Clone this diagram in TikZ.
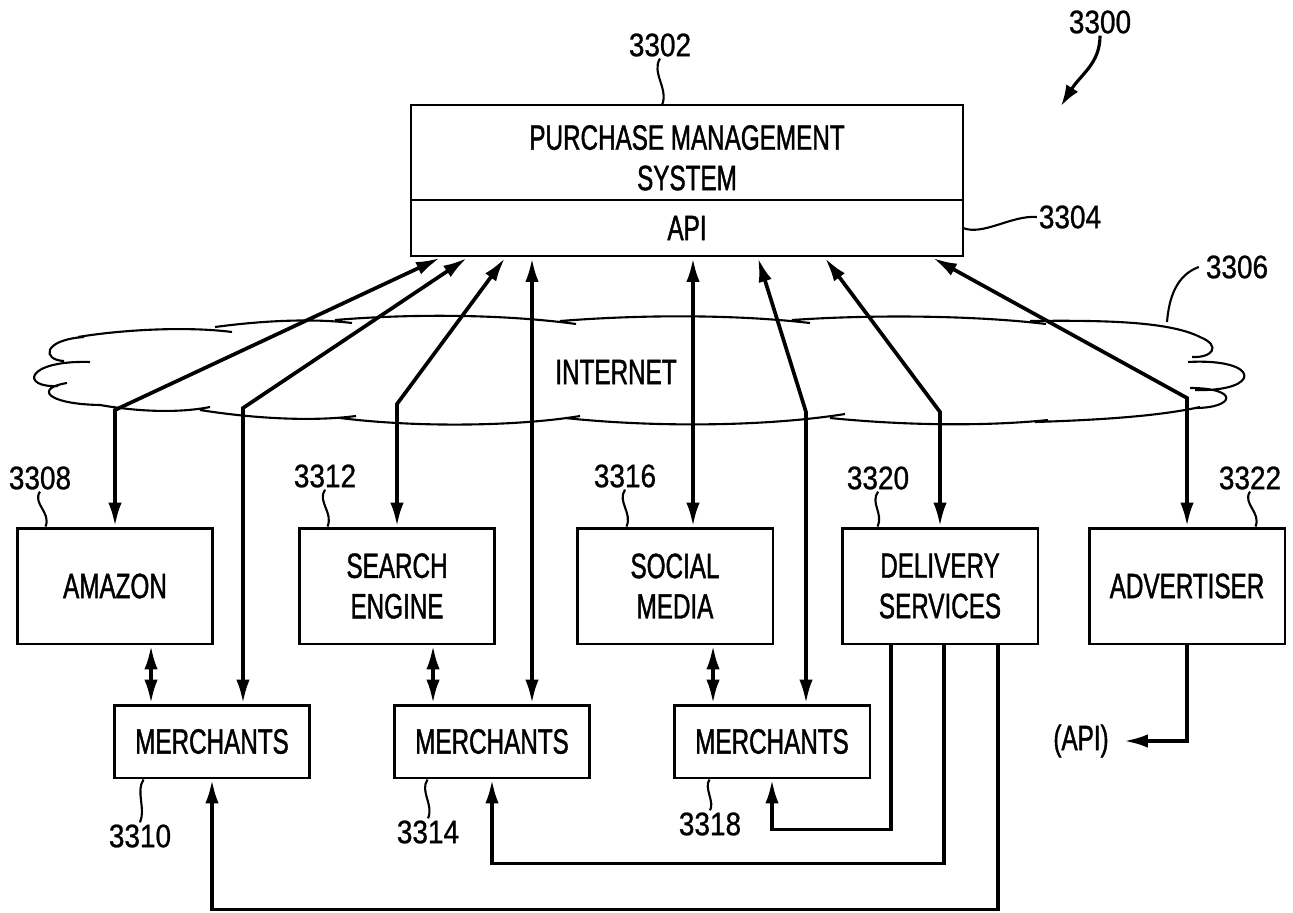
\documentclass[tikz,border=0pt]{standalone}
\usepackage{fontspec}
\newfontfamily\boxfamily[FakeStretch=0.69, FakeBold=1.2]{Liberation Sans}
\newfontfamily\numfamily[FakeStretch=0.86, FakeBold=0.8]{Liberation Sans}
\newcommand{\boxtext}{\boxfamily\fontsize{20}{23}\selectfont}
\newcommand{\numtext}{\numfamily\fontsize{18.5}{20}\selectfont}
\usepackage{tikz}
\usetikzlibrary{positioning,arrows.meta}
\tikzset{
    pmsbox/.style={draw, line width=1.5pt, minimum width=11.04cm, minimum height=1.9cm, align=center, outer sep=0pt, font=\boxtext},
    apibox/.style={pmsbox, minimum height=1.12cm},
    partybox/.style={draw, line width=1.7pt, minimum width=3.92cm, minimum height=2.32cm, align=center, font=\boxtext},
    merchbox/.style={partybox, minimum height=1.46cm},
    refnum/.style={font=\numtext, inner sep=1pt},
    plaintext/.style={font=\boxtext, inner sep=0pt},
    biarrow/.style={line width=2.1pt, {Latex[length=4.8mm,width=2.7mm]}-{Latex[length=4.8mm,width=2.7mm]}},
    onearrow/.style={line width=2.1pt, -{Latex[length=4.8mm,width=2.7mm]}},
    cloudline/.style={line width=1.2pt},
    leader/.style={line width=1.2pt}
}

\begin{document}
\begin{tikzpicture}[x=0.02cm, y=-0.02cm]
    \useasboundingbox (0,0) rectangle (1293,912);

    % system on top
    \node[pmsbox] (pms) at (687,152.5) {\raisebox{0pt}[30pt][9pt]{\begin{tabular}{@{}c@{}}PURCHASE MANAGEMENT\\SYSTEM\end{tabular}}};
    \node[apibox, below=0pt of pms] (api) {API};

    % internet cloud
    \draw[cloudline]
        (84,337) .. controls (42,340) and (42,360) .. (64,361)
        (90,362) .. controls (25,360) and (20,388) .. (58,386)
        (67,383) .. controls (35,388) and (45,404) .. (100,405) .. controls (140,412) and (180,413) .. (210,407)
        (78,337) .. controls (120,330) and (185,326) .. (232,332)
        (215,327) .. controls (260,321) and (310,318) .. (352,323)
        (335,320) .. controls (420,313) and (510,315) .. (576,324)
        (560,321) .. controls (650,314) and (740,315) .. (810,323)
        (792,320) .. controls (880,314) and (980,316) .. (1046,324)
        (1030,321) .. controls (1110,320) and (1170,322) .. (1200,337) .. controls (1222,346) and (1212,358) .. (1192,357)
        (1188,362) .. controls (1262,358) and (1262,392) .. (1195,390)
        (1190,388) .. controls (1240,388) and (1235,408) .. (1195,408)
        (200,410) .. controls (250,418) and (310,422) .. (356,416)
        (340,418) .. controls (420,428) and (520,426) .. (580,416)
        (565,418) .. controls (660,428) and (770,426) .. (845,414)
        (830,418) .. controls (910,426) and (990,426) .. (1048,420)
        (1035,422) .. controls (1100,420) and (1160,416) .. (1200,407);
    \node[plaintext] (internet) at (616,372) {INTERNET};

    % parties
    \node[partybox] (amazon) at (115,586) {AMAZON};
    \node[partybox] (search) at (397,586) {SEARCH\\ENGINE};
    \node[partybox] (social) at (675,586) {SOCIAL\\MEDIA};
    \node[partybox] (delivery) at (940,586) {DELIVERY\\SERVICES};
    \node[partybox] (advertiser) at (1187,586) {ADVERTISER};
    \node[merchbox] (merchA) at (212,741.5) {MERCHANTS};
    \node[merchbox] (merchB) at (492,741.5) {MERCHANTS};
    \node[merchbox] (merchC) at (772,741.5) {MERCHANTS};
    \node[plaintext] (apiout) at (1081,741) {(API)};

    % points on the api box and bends in the cloud
    \coordinate (apiA) at (440,258);
    \coordinate (apiB) at (467,258);
    \coordinate (apiC) at (505,258);
    \coordinate (apiD) at (532,258);
    \coordinate (apiE) at (693,258);
    \coordinate (apiF) at (758,258);
    \coordinate (apiG) at (825,258);
    \coordinate (apiH) at (933,258);
    \coordinate (bendA) at (115,410);
    \coordinate (bendB) at (243,408);
    \coordinate (bendC) at (397,404);
    \coordinate (bendF) at (806,412);
    \coordinate (bendG) at (940,412);
    \coordinate (bendH) at (1187,398);

    \draw[biarrow] (amazon.north) -- (bendA) -- (apiA);
    \draw[biarrow] (merchA.north -| bendB) -- (bendB) -- (apiB);
    \draw[biarrow] (search.north) -- (bendC) -- (apiC);
    \draw[biarrow] (merchB.north -| apiD) -- (apiD);
    \draw[biarrow] (social.north -| apiE) -- (apiE);
    \draw[biarrow] (merchC.north -| bendF) -- (bendF) -- (apiF);
    \draw[biarrow] (delivery.north) -- (bendG) -- (apiG);
    \draw[biarrow] (advertiser.north) -- (bendH) -- (apiH);

    \draw[biarrow] ([xshift=-1.22cm]merchA.north) -- ([xshift=-1.22cm]merchA.north |- amazon.south);
    \draw[biarrow] ([xshift=-1.18cm]merchB.north) -- ([xshift=-1.18cm]merchB.north |- search.south);
    \draw[biarrow] ([xshift=-1.18cm]merchC.north) -- ([xshift=-1.18cm]merchC.north |- social.south);

    \draw[onearrow] ([xshift=-0.98cm]delivery.south) -- ++(0,184) -| (merchC.south);
    \draw[onearrow] ([xshift=0.08cm]delivery.south) -- ++(0,218) -| (merchB.south);
    \draw[onearrow] ([xshift=1.16cm]delivery.south) -- ++(0,264) -| (merchA.south);
    \draw[onearrow] (advertiser.south) |- ([xshift=0.3cm]apiout.east);

    % reference numbers
    \node[refnum] (r3300) at (1100,22) {3300};
    \node[refnum] (r3302) at (660,45) {3302};
    \node[refnum] (r3304) at (1070,217) {3304};
    \node[refnum] (r3306) at (1237,267) {3306};
    \node[refnum] (r3308) at (40,478) {3308};
    \node[refnum] (r3312) at (325,476) {3312};
    \node[refnum] (r3316) at (625,476) {3316};
    \node[refnum] (r3320) at (878,478) {3320};
    \node[refnum] (r3322) at (1250,478) {3322};
    \node[refnum] (r3310) at (140,836) {3310};
    \node[refnum] (r3314) at (428,832) {3314};
    \node[refnum] (r3318) at (710,824) {3318};
    \coordinate (fig) at (1061,106);

    \draw[leader, line width=1.8pt, -{Latex[length=4.2mm,width=2.8mm]}] (r3300.south) .. controls +(0,28) and +(20,-32) .. (fig);
    \draw[leader] (r3302.south) .. controls +(-9,14) and +(7,-16) .. ([xshift=-0.5cm]pms.north);
    \draw[leader] (api.east) .. controls +(20,8) and +(-25,-2) .. (r3304.west);
    \draw[leader] ([xshift=-0.1cm]r3306.west) .. controls +(-22,8) and +(2,-25) .. (1167,322);
    \draw[leader] (r3308.south) .. controls +(-8,12) and +(6,-14) .. ([xshift=0.6cm]amazon.north west);
    \draw[leader] (r3312.south) .. controls +(-8,12) and +(6,-14) .. ([xshift=0.6cm]search.north west);
    \draw[leader] (r3316.south) .. controls +(-8,12) and +(6,-14) .. ([xshift=1.02cm]social.north west);
    \draw[leader] (r3320.south) .. controls +(-8,12) and +(6,-14) .. ([xshift=0.74cm]delivery.north west);
    \draw[leader] (r3322.south) .. controls +(-8,12) and +(6,-14) .. ([xshift=-0.62cm]advertiser.north east);
    \draw[leader] ([xshift=0.62cm]merchA.south west) .. controls +(-8,12) and +(6,-14) .. (r3310.north);
    \draw[leader] ([xshift=0.7cm]merchB.south west) .. controls +(-8,12) and +(6,-14) .. (r3314.north);
    \draw[leader] ([xshift=0.74cm]merchC.south west) .. controls +(-6,8) and +(5,-8) .. (r3318.north);
\end{tikzpicture}
\end{document}
